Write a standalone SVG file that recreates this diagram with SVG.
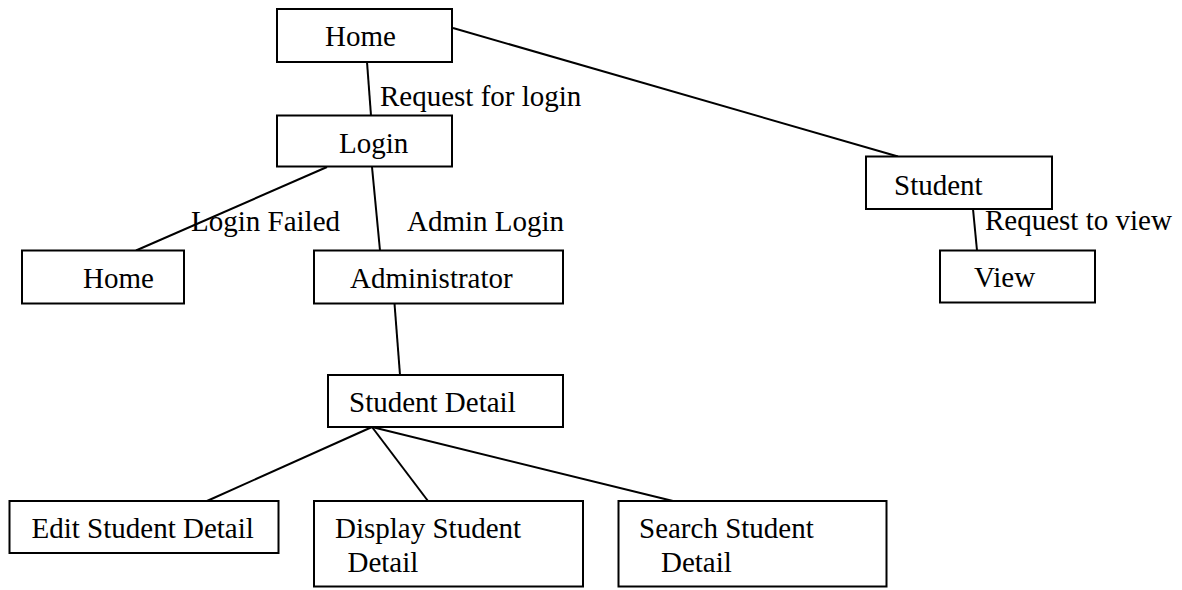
<svg xmlns="http://www.w3.org/2000/svg" width="1182" height="590" viewBox="0 0 1182 590">
  <style>
    .box { fill: #ffffff; stroke: #000000; stroke-width: 2; }
    .link { stroke: #000000; stroke-width: 2; fill: none; }
    text { font-family: "Liberation Serif", "Times New Roman", serif; font-size: 29px; fill: #000000; }
  </style>
  <rect width="1182" height="590" fill="#ffffff"/>

  <!-- connectors -->
  <g id="connectors">
    <line class="link" x1="367" y1="62" x2="371" y2="115.5"/>
    <line class="link" x1="453" y1="28" x2="898" y2="156.5"/>
    <line class="link" x1="327" y1="167" x2="136" y2="250.5"/>
    <line class="link" x1="372" y1="167" x2="380" y2="250.5"/>
    <line class="link" x1="394.5" y1="303.5" x2="400" y2="375"/>
    <line class="link" x1="372" y1="427" x2="207" y2="501"/>
    <line class="link" x1="372" y1="427" x2="428" y2="501"/>
    <line class="link" x1="372" y1="427" x2="673" y2="501"/>
    <line class="link" x1="973" y1="209" x2="977" y2="250.5"/>
    <text x="380" y="106">Request for login</text>
    <text x="191" y="231">Login Failed</text>
    <text x="407" y="231">Admin Login</text>
    <text x="985" y="230">Request to view</text>
  </g>

  <!-- nodes -->
  <g id="home">
    <rect class="box" x="277" y="9" width="175" height="53"/>
    <text x="325" y="46">Home</text>
  </g>
  <g id="login">
    <rect class="box" x="277" y="115.5" width="175" height="51"/>
    <text x="339" y="153">Login</text>
  </g>
  <g id="home-failed">
    <rect class="box" x="22" y="250.5" width="162" height="53"/>
    <text x="83" y="288">Home</text>
  </g>
  <g id="administrator">
    <rect class="box" x="314" y="250.5" width="249" height="53"/>
    <text x="350" y="288">Administrator</text>
  </g>
  <g id="student-detail">
    <rect class="box" x="328" y="375" width="235" height="52"/>
    <text x="349" y="412">Student Detail</text>
  </g>
  <g id="edit-student-detail">
    <rect class="box" x="9.5" y="501" width="269" height="52"/>
    <text x="31.5" y="538">Edit Student Detail</text>
  </g>
  <g id="display-student-detail">
    <rect class="box" x="314" y="501" width="269" height="85.5"/>
    <text x="335" y="538">Display Student</text>
    <text x="347.5" y="571.5">Detail</text>
  </g>
  <g id="search-student-detail">
    <rect class="box" x="618.5" y="501" width="268" height="85.5"/>
    <text x="639" y="538">Search Student</text>
    <text x="661" y="571.5">Detail</text>
  </g>
  <g id="student">
    <rect class="box" x="866" y="156.5" width="186" height="52.5"/>
    <text x="894" y="195">Student</text>
  </g>
  <g id="view">
    <rect class="box" x="940" y="250.5" width="155" height="52"/>
    <text x="974" y="287">View</text>
  </g>
</svg>
